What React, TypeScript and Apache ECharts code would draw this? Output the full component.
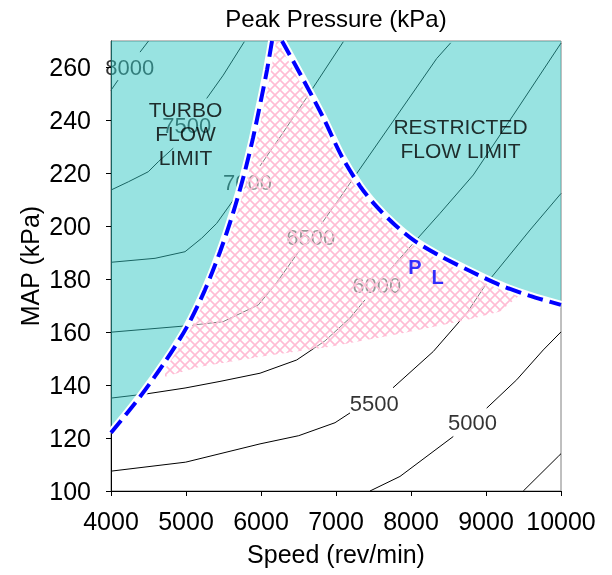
import React, { useEffect, useRef } from 'react';
import * as echarts from 'echarts';

const FONT = '"Liberation Sans", Arial, Helvetica, sans-serif';

const speedTicks = [4000, 5000, 6000, 7000, 8000, 9000, 10000];
const mapTicks = [100, 120, 140, 160, 180, 200, 220, 240, 260];

// Peak pressure contours [speed rev/min, MAP kPa]; each level is broken where its label sits
const c4500 = [[9497, 100], [9964, 113.1], [10000, 114.1]];
const c5000Low = [[7453, 100], [7853, 105.5], [8564, 120.6]];
const c5000High = [[9009, 131.3], [9409, 142.0], [9764, 153.3], [10000, 160.1]];
const c5500Low = [[4000, 107.5], [4996, 110.9], [5987, 117.8], [6503, 120.9], [6987, 125.8], [7187, 129.5]];
const c5500High = [[7760, 139.0], [8297, 152.7], [8743, 167.2], [9009, 178.5], [9587, 198.6], [10000, 212.4]];
const c6000Low = [[4000, 135.1], [4476, 136.7], [4987, 138.9], [5453, 141.4], [5987, 144.5], [6476, 149.5], [6853, 156.7], [7187, 165.4], [7387, 172.2]];
const c6000High = [[7697, 182.9], [8031, 193.6], [8387, 204.9], [8831, 219.4], [9364, 242.0], [10000, 269.2]];
const c6500Low = [[4000, 160.0], [5009, 162.4], [5497, 164.0], [5964, 170.3], [6187, 177.9], [6520, 191.1]];
const c6500High = [[6809, 201.1], [7031, 209.9], [7231, 218.1], [8343, 263.4], [8529, 269.3]];
const c7000Low = [[4000, 186.4], [4587, 187.9], [4987, 190.4], [5209, 195.5], [5409, 201.1], [5631, 209.9]];
const c7000High = [[5987, 222.8], [6280, 234.8], [6587, 247.7], [7097, 269.7]];
const c7500Low = [[4000, 213.7], [4231, 216.8], [4497, 220.6], [4631, 224.4], [4830, 229.5]];
const c7500High = [[5276, 248.3], [5497, 257.1], [5777, 269.7]];
const c8000Low = [[4000, 251.4], [4093, 255.2]];
const c8000High = [[4387, 265.8], [4500, 270]];

const contourSegments = [
  c4500, c5000Low, c5000High, c5500Low, c5500High, c6000Low, c6000High,
  c6500Low, c6500High, c7000Low, c7000High, c7500Low, c7500High, c8000Low, c8000High,
];

// Level labels and where they sit
const contourLevels = ['5000', '5500', '6000', '6500', '7000', '7500', '8000'];
const labelSpeed = [8820, 7509, 7543, 6664, 5820, 5009, 4249];
const labelMap = [125.7, 133.1, 177.5, 195.8, 216.5, 238.2, 260.0];

// Operating limits
const turboLimit = [[4000, 122.0], [4387, 135.6], [4720, 148.8], [5013, 162.0], [5253, 176.0], [5453, 190.3], [5627, 205.0], [5773, 219.4], [5893, 233.3], [6000, 247.7], [6080, 259.0], [6147, 270]];
const flowLimit = [[6280, 270], [6560, 255.6], [6827, 241.2], [7080, 226.2], [7320, 215.2], [7533, 207.7], [7787, 200.5], [8053, 194.4], [8387, 188.8], [8787, 183.1], [9187, 177.8], [9587, 173.7], [10000, 170.3]];
// Lower edge of the hatched operating window
const windowEdge = [[9480, 174.7], [9187, 167.8], [8743, 164.6], [7853, 159.4], [6920, 154.5], [5987, 150.7], [5187, 146.9], [4720, 143.2]];

const turboRegion = [...turboLimit, [4000, 270]];
const flowRegion = [...flowLimit, [10000, 270]];
const windowRegion = [...turboLimit.slice(2), ...flowLimit.slice(0, 11), ...windowEdge];

const hatchSvg =
  "<svg xmlns='http://www.w3.org/2000/svg' width='10' height='10'>" +
  "<rect width='10' height='10' fill='white' fill-opacity='0.5'/>" +
  "<path d='M-1 -1L11 11M11 -1L-1 11' stroke='#ffbcd4' stroke-width='1.6' fill='none'/></svg>";
const hatchFill = {
  image: 'data:image/svg+xml;charset=utf-8,' + encodeURIComponent(hatchSvg),
  repeat: 'repeat',
  imageWidth: 10,
  imageHeight: 10,
};

function regionSeries(points: number[][], fill: any, z: number) {
  return {
    type: 'custom',
    z,
    silent: true,
    clip: true,
    data: [[4000, 100]],
    renderItem: (_p: any, api: any) => ({
      type: 'polygon',
      shape: { points: points.map((pt) => api.coord(pt)) },
      style: { fill },
    }),
  };
}

export default function App() {
  const ref = useRef<HTMLDivElement>(null);

  useEffect(() => {
    if (!ref.current) return;
    const chart = echarts.init(ref.current, undefined, { renderer: 'svg' });

    const contourSeries = contourSegments.map((seg) => ({
      type: 'line',
      z: 1,
      data: seg,
      symbol: 'none',
      silent: true,
      lineStyle: { color: '#000', width: 1 },
    }));

    const labelSeries = {
      type: 'scatter',
      z: 1,
      silent: true,
      symbolSize: 1,
      itemStyle: { color: 'rgba(0,0,0,0)' },
      data: contourLevels.map((lv, i) => [labelSpeed[i], labelMap[i], lv]),
      label: {
        show: true,
        position: 'inside',
        formatter: (p: any) => p.value[2],
        color: '#000',
        fontSize: 22,
        fontFamily: FONT,
      },
    };

    const notes = {
      type: 'scatter',
      z: 10,
      silent: true,
      symbolSize: 1,
      itemStyle: { color: 'rgba(0,0,0,0)' },
      data: [
        { value: [4993, 235.0], label: { formatter: 'TURBO\nFLOW\nLIMIT' } },
        { value: [8660, 233.0], label: { formatter: 'RESTRICTED\nFLOW LIMIT' } },
        { value: [8053, 184.8], label: { formatter: 'P', color: '#0000ff', fontWeight: 'bold', fontSize: 20 } },
        { value: [8356, 181.0], label: { formatter: 'L', color: '#0000ff', fontWeight: 'bold', fontSize: 20 } },
      ],
      label: {
        show: true,
        position: 'inside',
        color: '#000',
        fontSize: 21,
        lineHeight: 24,
        align: 'center',
        fontFamily: FONT,
      },
    };

    const limitLine = (pts: number[][], z: number, color: string, width: number, type: any) => ({
      type: 'line',
      z,
      data: pts,
      symbol: 'none',
      silent: true,
      smooth: 0.3,
      lineStyle: { color, width, type },
    });

    chart.setOption({
      animation: false,
      textStyle: { fontFamily: FONT },
      grid: {
        left: 111,
        right: 51,
        top: 41,
        bottom: 84,
        show: true,
        borderColor: '#808080',
        borderWidth: 1,
      },
      xAxis: {
        type: 'value',
        min: 4000,
        max: 10000,
        interval: 1000,
        axisLine: { show: true, lineStyle: { color: '#000', width: 1 } },
        axisTick: { show: true, length: 5, lineStyle: { color: '#000' } },
        axisLabel: {
          color: '#000',
          fontSize: 25,
          margin: 17,
          customValues: speedTicks,
          formatter: (v: number) => String(v),
        },
        splitLine: { show: false },
      },
      yAxis: {
        type: 'value',
        min: 100,
        max: 270,
        interval: 20,
        axisLine: { show: true, lineStyle: { color: '#000', width: 1 } },
        axisTick: { show: true, length: 5, lineStyle: { color: '#000' }, customValues: mapTicks },
        axisLabel: { color: '#000', fontSize: 25, margin: 20, customValues: mapTicks, formatter: (v: number) => String(v) },
        splitLine: { show: false },
      },
      graphic: [
        {
          type: 'text',
          x: 336,
          y: 18,
          style: { text: 'Peak Pressure (kPa)', fontSize: 24, fontFamily: FONT, fill: '#000', align: 'center', verticalAlign: 'middle' },
        },
        {
          type: 'text',
          x: 336,
          y: 554,
          style: { text: 'Speed (rev/min)', fontSize: 25, fontFamily: FONT, fill: '#000', align: 'center', verticalAlign: 'middle' },
        },
        {
          type: 'text',
          x: 30,
          y: 266,
          rotation: Math.PI / 2,
          style: { text: 'MAP (kPa)', fontSize: 25, fontFamily: FONT, fill: '#000', align: 'center', verticalAlign: 'middle' },
        },
      ],
      series: [
        ...contourSeries,
        labelSeries,
        regionSeries(turboRegion, 'rgba(50,200,196,0.5)', 2),
        regionSeries(flowRegion, 'rgba(50,200,196,0.5)', 2),
        regionSeries(windowRegion, hatchFill, 2),
        limitLine(turboLimit, 3, '#ffffff', 8, 'solid'),
        limitLine(flowLimit, 3, '#ffffff', 8, 'solid'),
        limitLine(turboLimit, 4, '#0000ff', 4, [16, 7]),
        limitLine(flowLimit, 4, '#0000ff', 4, [16, 7]),
        notes,
      ],
    });

    return () => chart.dispose();
  }, []);

  return <div ref={ref} style={{ position: 'fixed', left: 0, top: 0, width: 612, height: 575 }} />;
}
